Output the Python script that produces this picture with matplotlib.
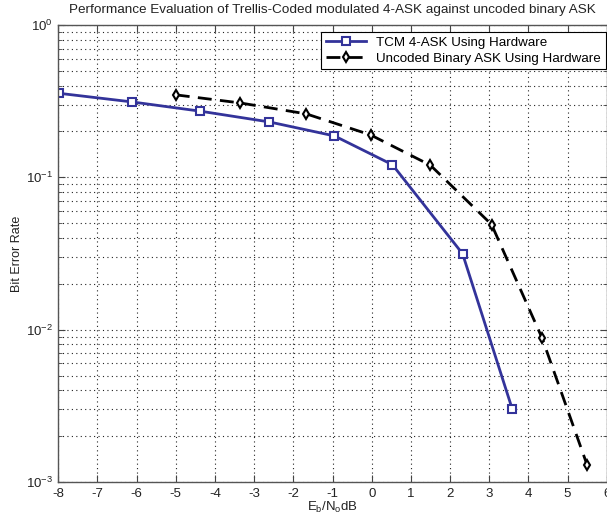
import matplotlib
matplotlib.use("Agg")
import matplotlib.pyplot as plt
from matplotlib.ticker import LogLocator, NullFormatter

plt.rcParams['font.family'] = ['Liberation Sans', 'DejaVu Sans']
plt.rcParams['mathtext.fontset'] = 'custom'
plt.rcParams['mathtext.rm'] = 'Liberation Sans'
plt.rcParams['mathtext.it'] = 'Liberation Sans:italic'
plt.rcParams['axes.unicode_minus'] = False

tcm_snr = [-7.97, -6.13, -4.38, -2.61, -0.95, 0.53, 2.32, 3.59]
tcm_ber = [0.356, 0.313, 0.272, 0.231, 0.187, 0.121, 0.0315, 0.0030]
unc_snr = [-5.0, -3.36, -1.67, -0.03, 1.5, 3.06, 4.35, 5.5]
unc_ber = [0.348, 0.308, 0.261, 0.190, 0.120, 0.049, 0.0088, 0.00129]
x_ticks = list(range(-8, 7))

fig = plt.figure(figsize=(6.07, 5.19), dpi=100)
ax = fig.add_axes([0.096, 0.0713, 0.9036, 0.8805])

ax.semilogy(tcm_snr, tcm_ber, '-s', color='#33339a', lw=2, ms=6, mew=1.5,
            mfc='white', label='TCM 4-ASK Using Hardware')
ax.semilogy(unc_snr, unc_ber, '--d', color='black', lw=2, ms=5, mew=1.5,
            mfc='white', dashes=(5, 3), label='Uncoded Binary ASK Using Hardware')

ax.set_xlim(-8, 6)
ax.set_ylim(1e-3, 1)
ax.set_xticks(x_ticks)
ax.yaxis.set_minor_locator(LogLocator(base=10, subs=range(2, 10)))
ax.yaxis.set_minor_formatter(NullFormatter())

dots = (0, (1, 3))
ax.grid(True, which='major', axis='both', linestyle=dots, color='#222222', lw=0.8)
ax.grid(True, which='minor', axis='y', linestyle=dots, color='#222222', lw=0.8)

ax.tick_params(which='both', direction='in', top=True, right=True,
               labelsize=9.5, colors='#444444', labelcolor='#222222')
ax.tick_params(which='major', length=5, pad=4)
ax.tick_params(which='minor', length=3)
for s in ax.spines.values():
    s.set_color('#555555')
    s.set_linewidth(1)

ax.set_title('Performance Evaluation of Trellis-Coded modulated 4-ASK against uncoded binary ASK',
             fontsize=9.7, pad=9, color='#222222')
ax.set_xlabel(r'E$_\mathrm{b}$/N$_\mathrm{o}$dB', fontsize=9.5, labelpad=0, color='#222222')
ax.set_ylabel('Bit Error Rate', fontsize=9, color='#222222')
ax.yaxis.set_label_coords(-0.064, 0.5)

leg = ax.legend(loc='upper right', bbox_to_anchor=(0.998, 0.985), borderaxespad=0,
                fontsize=9.6, fancybox=False, framealpha=1, edgecolor='black',
                handlelength=3, borderpad=0.35, labelspacing=0.25)
leg.get_frame().set_linewidth(0.8)

fig.savefig('out.png', dpi=100)
